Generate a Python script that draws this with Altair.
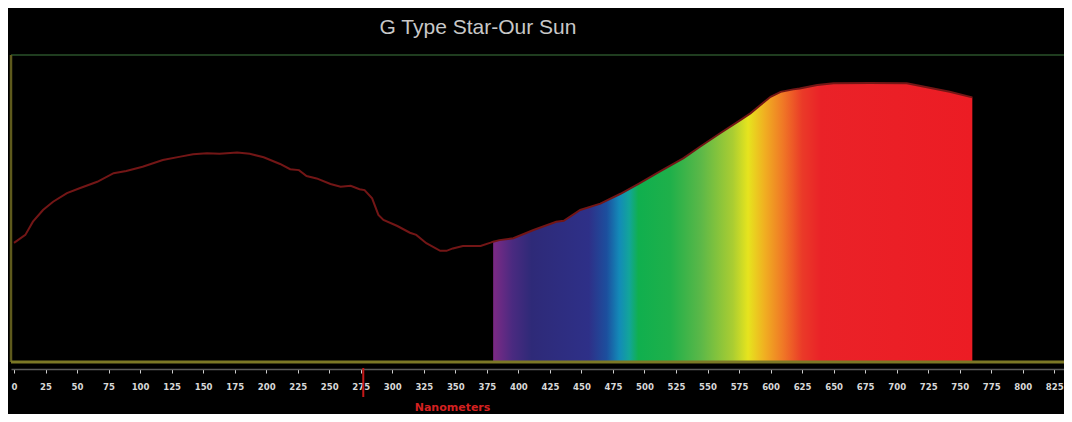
import altair as alt
import pandas as pd

# Wavelength (nm) and relative intensity
nm = [0, 9, 15, 23, 31, 42, 52, 66, 79, 89, 102, 118, 132, 142, 153, 163, 177, 187, 198, 211,
      219, 226, 232, 240, 251, 259, 267, 274, 278, 284, 289, 293, 304, 314, 319, 327, 338, 343, 348, 356,
      370, 378, 380, 385, 396, 412, 430, 436, 449, 465, 481, 496, 512, 531, 544, 560, 576, 584, 592, 600,
      608, 618, 623, 637, 650, 679, 708, 724, 742, 760]
intensity = [38.8, 41.4, 45.7, 49.5, 52.2, 55.0, 56.6, 58.7, 61.5, 62.2, 63.6, 65.8, 66.9, 67.7, 68.0,
             67.8, 68.2, 67.8, 66.7, 64.5, 62.8, 62.5, 60.6, 59.8, 58.0, 57.1, 57.4, 56.3, 56.0, 53.3,
             47.9, 46.3, 44.3, 42.1, 41.4, 38.7, 36.2, 36.2, 37.0, 37.8, 37.8, 38.9, 39.2, 39.7, 40.3,
             43.0, 45.7, 46.0, 49.5, 51.6, 54.8, 58.2, 62.0, 66.4, 70.1, 74.5, 78.8, 81.0, 83.7, 86.4,
             88.0, 88.8, 89.1, 90.2, 90.8, 90.9, 90.8, 89.5, 88.0, 86.2]

tick_values = list(range(0, 826, 25))
visible_start = 380
cursor_nm = [277]
title_text = ["G Type Star-Our Sun"]

# Spectrum colour stops (offset within the 380-760 nm band)
stop_offsets = [0.0, 0.04, 0.08, 0.2, 0.237, 0.263, 0.284, 0.303, 0.37, 0.434, 0.5, 0.532, 0.566, 0.605, 0.645, 0.684, 1.0]
stop_colors = ["#7d2a86", "#4a2a80", "#2e2a78", "#2e3088", "#1c4f9e", "#138ab8", "#12a59a", "#10af4e",
               "#1fb04a", "#5cb848", "#aacd32", "#e6e41e", "#f0b021", "#f07826", "#ea3a28", "#ea2228", "#ec1c24"]

df = pd.DataFrame({"nm": nm, "intensity": intensity})
cur = pd.DataFrame({"nm": cursor_nm})
ttl = pd.DataFrame({"t": title_text})

W, H = 1053, 307
xscale = alt.Scale(domain=[-2.38, 832.7], nice=False)
yscale = alt.Scale(domain=[0, 100], nice=False)

xaxis = alt.Axis(
    values=tick_values, grid=False, offset=7, labelOverlap=False,
    domainColor="#5c5c5c", domainWidth=1.5,
    tickColor="#cfcfcf", tickSize=4, tickWidth=1,
    labelColor="#d8d8d8", labelFont="DejaVu Sans Condensed", labelFontSize=9.5, labelFontWeight="bold",
    labelPadding=8,
    title="Nanometers", titleColor="#d42020", titleFont="DejaVu Sans", titleFontWeight="bold",
    titleFontSize=11, titleX=441, titleY=38, titleAlign="center", titleBaseline="middle",
)

base = alt.Chart(df)

gradient = alt.Gradient(
    gradient="linear", x1=0, x2=1, y1=0, y2=0,
    stops=[alt.GradientStop(offset=o, color=c) for o, c in zip(stop_offsets, stop_colors)],
)

area = base.transform_filter(alt.datum.nm >= visible_start).mark_area(color=gradient, opacity=1).encode(
    x=alt.X("nm:Q", scale=xscale, axis=xaxis),
    y=alt.Y("intensity:Q", scale=yscale, axis=None),
)

line = base.mark_line(color="#731616", strokeWidth=2).encode(
    x=alt.X("nm:Q", scale=xscale, axis=xaxis),
    y=alt.Y("intensity:Q", scale=yscale, axis=None),
)

top_border = alt.Chart(cur).mark_rule(color="#1f3d1f", strokeWidth=2).encode(
    x=alt.value(0), x2=alt.value(W), y=alt.value(0))
left_border = alt.Chart(cur).mark_rule(color="#5e5a1c", strokeWidth=2.5).encode(
    x=alt.value(0), y=alt.value(0), y2=alt.value(H))
bottom_border = alt.Chart(cur).mark_rule(color="#7c7826", strokeWidth=3).encode(
    x=alt.value(0), x2=alt.value(W), y=alt.value(H))

cursor = alt.Chart(cur).mark_rule(color="#c41818", strokeWidth=2).encode(
    x=alt.X("nm:Q", scale=xscale, axis=xaxis), y=alt.value(H + 6), y2=alt.value(H + 35))

title = alt.Chart(ttl).mark_text(
    color="#c8c8c8", font="Liberation Sans", fontSize=21, align="center", baseline="middle",
).encode(text="t:N", x=alt.value(467), y=alt.value(-27))

chart = alt.layer(area, line, top_border, left_border, bottom_border, cursor, title).properties(
    width=W, height=H,
    autosize=alt.AutoSizeParams(type="none"),
    padding={"left": 3, "top": 47, "right": 0, "bottom": 52},
).configure(background="#000000").configure_view(stroke=None)

chart.save("out.html", embed_options={"renderer": "svg", "actions": False})
